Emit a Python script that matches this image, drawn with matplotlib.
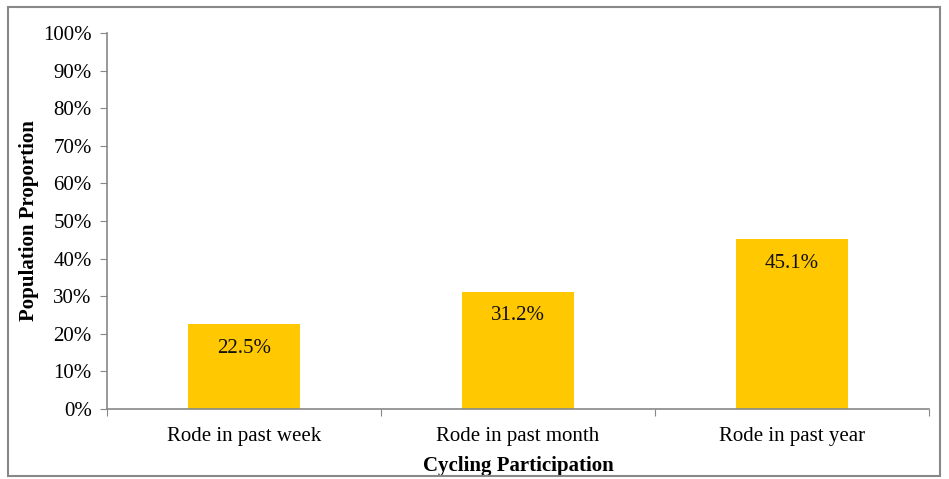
import matplotlib.pyplot as plt
from matplotlib.ticker import PercentFormatter
from matplotlib.patches import Rectangle

categories = ["Rode in past week", "Rode in past month", "Rode in past year"]
values = [22.5, 31.2, 45.1]

plt.rcParams['font.family'] = ['Liberation Serif', 'DejaVu Serif']

fig = plt.figure(figsize=(9.49, 4.79), dpi=100)
ax = fig.add_axes([107 / 949, 1 - 409 / 479, (929 - 107) / 949, (409 - 33) / 479])

xs = range(len(categories))
ax.bar(xs, values, width=0.41, color='#FFC800')
for x, v in zip(xs, values):
    ax.annotate(f"{v}%", (x, v), xytext=(0, -17), textcoords='offset points',
                ha='center', va='center', fontsize=15, color='#111111')

ax.set_xlim(-0.5, len(categories) - 0.5)
ax.set_ylim(0, 100)
ax.set_yticks(range(0, 101, 10))
ax.yaxis.set_major_formatter(PercentFormatter(decimals=0))
ax.set_xticks([i - 0.5 for i in range(len(categories) + 1)])
ax.set_xticklabels([])
ax.set_xticks(list(xs), minor=True)
ax.set_xticklabels(categories, minor=True, fontsize=15)
ax.tick_params(axis='x', which='minor', length=0, pad=13)
ax.tick_params(axis='x', which='major', length=5, color='#888888')
ax.tick_params(axis='y', length=5, color='#888888', labelsize=15, pad=6)

for s in ['top', 'right']:
    ax.spines[s].set_visible(False)
for s in ['left', 'bottom']:
    ax.spines[s].set_color('#888888')
    ax.spines[s].set_linewidth(1.2)

ax.set_xlabel("Cycling Participation", fontweight='bold', fontsize=15, labelpad=7)
ax.set_ylabel("Population Proportion", fontweight='bold', fontsize=15, labelpad=3)

fig.patches.append(Rectangle((8 / 949, 1 - 476 / 479), (940 - 8) / 949, (476 - 7) / 479,
                             transform=fig.transFigure, fill=False,
                             edgecolor='#888888', linewidth=1.5))

fig.savefig("out.png", dpi=100)
